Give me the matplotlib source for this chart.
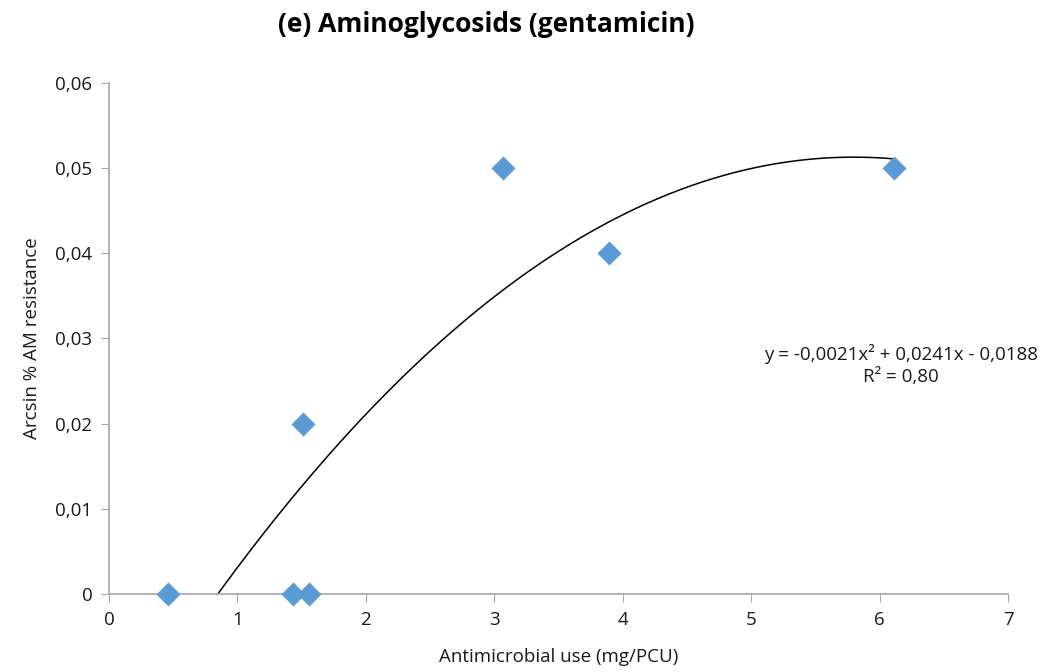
import numpy as np
import matplotlib
matplotlib.use("Agg")
import matplotlib.pyplot as plt
from matplotlib.ticker import FuncFormatter

plt.rcParams['font.family'] = ['Open Sans', 'DejaVu Sans']

# Data
use_x = [0.46, 1.43, 1.56, 1.51, 3.07, 3.89, 6.11]
resist_y = [0.0, 0.0, 0.0, 0.02, 0.05, 0.04, 0.05]
title = "(e) Aminoglycosids (gentamicin)"
xlabel = "Antimicrobial use (mg/PCU)"
ylabel = "Arcsin % AM resistance"
eq_text = "y = -0,0021x² + 0,0241x - 0,0188\nR² = 0,80"

# quadratic trendline fitted to the points
coef = np.polyfit(use_x, resist_y, 2)

fig = plt.figure(figsize=(10.47, 6.72), dpi=100)
ax = fig.add_axes([0.1041, 0.1161, 0.9628 - 0.1041, 0.8765 - 0.1161])

xs = np.linspace(0.5, 6.12, 400)
ys = np.polyval(coef, xs)
ax.plot(xs, ys, color='black', lw=1.1, zorder=2, clip_on=True)
ax.scatter(use_x, resist_y, marker='D', s=150, color='#5B9BD5', zorder=3, clip_on=False, linewidths=0)

ax.set_xlim(0, 7)
ax.set_ylim(0, 0.06)
ax.set_xticks(range(0, 8))
ax.set_yticks(np.arange(0, 0.0601, 0.01))
ax.yaxis.set_major_formatter(FuncFormatter(lambda v, p: "0" if abs(v) < 1e-12 else f"{v:.2f}".replace('.', ',')))
ax.xaxis.set_major_formatter(FuncFormatter(lambda v, p: f"{int(round(v))}"))

for s in ['top', 'right']:
    ax.spines[s].set_visible(False)
for s in ['left', 'bottom']:
    ax.spines[s].set_color('#A6A6A6')
    ax.spines[s].set_linewidth(1.2)
ax.tick_params(axis='both', which='major', direction='out', length=6, color='#A6A6A6',
               labelsize=13.5, labelcolor='#1a1a1a', pad=6)

ax.set_xlabel(xlabel, fontsize=13.5, color='#1a1a1a', labelpad=14)
ax.set_ylabel(ylabel, fontsize=13.5, color='#1a1a1a', labelpad=10)
fig.text(486 / 1047, 1 - 24 / 672, title, ha='center', va='center', fontsize=19, fontweight='bold', color='black')
fig.text(901 / 1047, 1 - 365 / 672, eq_text, ha='center', va='center', fontsize=13.5, color='#1a1a1a', linespacing=1.3)

fig.savefig('out.png', dpi=100)
